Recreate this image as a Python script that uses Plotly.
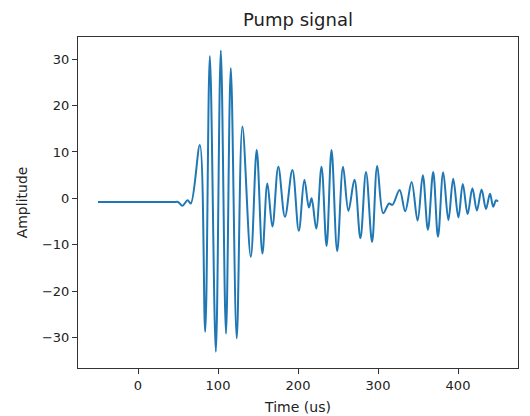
import plotly.graph_objects as go

# Extrema of the pump waveform
time_us = [-50, 0, 45, 50, 55.7, 62, 66, 77.3, 84, 89.8, 97.3, 103.5,
           110, 116, 123.4, 130.5, 141, 148.4, 155.5, 161.7, 168, 175.4,
           183.7, 193, 201, 208, 213.6, 217, 222.8, 229.4, 235.7, 241.9,
           249, 256.3, 263, 270.6, 278, 285, 292.6, 299, 306.5, 313.8,
           318, 327, 334, 342, 349.5, 356, 362.4, 369, 375, 381.5,
           388, 394, 400.5, 406, 412, 418, 423.6, 429.5, 435, 440,
           444, 447.5, 450]
amplitude = [-0.8, -0.8, -0.8, -0.8, -1.6, -0.4, -1.1, 11.5, -28.8, 30.7, -33.1, 31.9,
             -29.2, 28.1, -30.2, 15.5, -12.6, 10.4, -11.9, 3.2, -6.1, 6.8,
             -4.0, 6.1, -7.0, 4.0, -2.0, 0.0, -6.5, 6.8, -10.3, 10.4,
             -11.4, 6.8, -2.7, 4.0, -8.6, 5.7, -9.4, 7.0, -3.2, -1.1,
             -1.4, 1.8, -2.8, 3.5, -4.8, 5.0, -6.8, 5.7, -8.3, 5.6,
             -4.7, 4.2, -4.1, 3.1, -3.4, 2.2, -2.6, 1.9, -2.3, 1.0,
             -1.8, -0.4, -0.7]

xtick_vals = [0, 100, 200, 300, 400]
xtick_text = ["0", "100", "200", "300", "400"]
ytick_vals = [-30, -20, -10, 0, 10, 20, 30]
ytick_text = ["\u221230", "\u221220", "\u221210", "0", "10", "20", "30"]

fig = go.Figure()
fig.add_trace(go.Scatter(
    x=time_us, y=amplitude, mode="lines",
    line=dict(color="#1f77b4", width=2, shape="spline", smoothing=1.0),
    showlegend=False, hoverinfo="skip",
))

axis_common = dict(
    showline=True, mirror=True, linecolor="#333333", linewidth=1,
    ticks="outside", ticklen=5, tickwidth=1, tickcolor="#333333",
    showgrid=False, zeroline=False,
    tickfont=dict(family="DejaVu Sans", size=13, color="#222222"),
)

# the page body adds an 8px margin; size the figure so it fills the window
W, H = 522, 408
fig.update_layout(
    width=W, height=H,
    margin=dict(l=70, r=12, t=29, b=48, autoexpand=False),
    paper_bgcolor="white", plot_bgcolor="white",
    font=dict(family="DejaVu Sans", color="#222222"),
    title=dict(text="Pump signal", x=0.5, xref="paper", xanchor="center",
               y=1 - 12 / H, yref="container", yanchor="middle",
               font=dict(size=18, color="#222222")),
    xaxis=dict(range=[-75, 475], tickvals=xtick_vals, ticktext=xtick_text,
               title=dict(text="Time (us)", standoff=10,
                          font=dict(size=14, color="#222222")),
               **axis_common),
    yaxis=dict(range=[-36.6, 34.8], tickvals=ytick_vals, ticktext=ytick_text,
               title=dict(text="Amplitude", standoff=11,
                          font=dict(size=14, color="#222222")),
               **axis_common),
)

fig.write_html("out.html")
